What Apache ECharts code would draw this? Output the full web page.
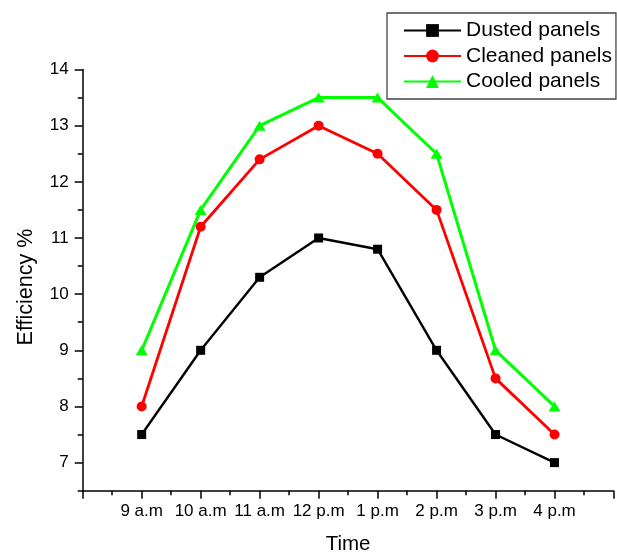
<!DOCTYPE html>
<html>
<head>
<meta charset="utf-8">
<script src="https://cdn.jsdelivr.net/npm/echarts@6/dist/echarts.min.js"></script>
<style>
  html, body { margin: 0; padding: 0; background: #fff; }
  #chart { width: 617px; height: 554px; }
</style>
</head>
<body>
<div id="chart"></div>
<script>
// Hour of day for each reading (24h clock) and its printed label
var hours = [9, 10, 11, 12, 13, 14, 15, 16];
var timeLabels = ['9 a.m', '10 a.m', '11 a.m', '12 p.m', '1 p.m', '2 p.m', '3 p.m', '4 p.m'];

// Efficiency (%) of each panel condition through the day
var dusted  = [7.5, 9.0, 10.3, 11.0, 10.8, 9.0, 7.5, 7.0];
var cleaned = [8.0, 11.2, 12.4, 13.0, 12.5, 11.5, 8.5, 7.5];
var cooled  = [9.0, 11.5, 13.0, 13.5, 13.5, 12.5, 9.0, 8.0];

// Axis tick values
var yMajor = [7, 8, 9, 10, 11, 12, 13, 14];
var yMinor = [6.5, 7.5, 8.5, 9.5, 10.5, 11.5, 12.5, 13.5];

var FONT = '"Liberation Sans", Arial, Helvetica, sans-serif';

function pairs(values) {
  return hours.map(function (h, i) { return [h, values[i]]; });
}

var chart = echarts.init(document.getElementById('chart'), null, { renderer: 'canvas' });

chart.setOption({
  backgroundColor: '#ffffff',
  animation: false,
  textStyle: { fontFamily: FONT, color: '#000' },
  grid: {
    left: 82.7, right: 3.5, top: 69.5, bottom: 63.3,
    containLabel: false,
    outerBoundsMode: 'none'
  },
  legend: {
    orient: 'vertical',
    left: 387,
    top: 13,
    padding: [7, 4, 7, 16],
    borderColor: '#444',
    borderWidth: 1.3,
    itemWidth: 57,
    itemHeight: 16,
    itemGap: 4.5,
    textStyle: { fontFamily: FONT, fontSize: 21, color: '#000', lineHeight: 20 },
    data: ['Dusted panels', 'Cleaned panels', 'Cooled panels']
  },
  xAxis: {
    type: 'value',
    min: 8,
    max: 17,
    interval: 1,
    name: 'Time',
    nameLocation: 'middle',
    nameGap: 43.5,
    nameTextStyle: { fontFamily: FONT, fontSize: 20.5, color: '#000' },
    axisLine: { show: true, lineStyle: { color: '#000', width: 1.5 } },
    axisTick: { show: true, inside: false, length: 8, lineStyle: { color: '#000', width: 1.5 } },
    minorTick: { show: true, splitNumber: 2, length: 4.5, lineStyle: { color: '#000', width: 1.5 } },
    splitLine: { show: false },
    minorSplitLine: { show: false },
    axisLabel: {
      fontFamily: FONT, fontSize: 17, color: '#000', margin: 12,
      formatter: function (v) {
        var i = hours.indexOf(v);
        return i >= 0 ? timeLabels[i] : '';
      }
    }
  },
  yAxis: [
    {
      type: 'value',
      min: 6.5,
      max: 14,
      name: 'Efficiency %',
      nameLocation: 'middle',
      nameGap: 46,
      nameTextStyle: { fontFamily: FONT, fontSize: 21.5, color: '#000', padding: [0, 14, 0, 0] },
      axisLine: { show: true, lineStyle: { color: '#000', width: 1.5 } },
      axisTick: { show: true, inside: false, length: 8, customValues: yMajor, lineStyle: { color: '#000', width: 1.5 } },
      splitLine: { show: false },
      axisLabel: { fontFamily: FONT, fontSize: 17, color: '#000', margin: 14, customValues: yMajor }
    },
    {
      type: 'value',
      min: 6.5,
      max: 14,
      position: 'left',
      axisLine: { show: false },
      axisTick: { show: true, inside: false, length: 5, customValues: yMinor, lineStyle: { color: '#000', width: 1.5 } },
      splitLine: { show: false },
      axisLabel: { show: false }
    }
  ],
  series: [
    {
      name: 'Dusted panels',
      type: 'line',
      data: pairs(dusted),
      color: '#000000',
      lineStyle: { color: '#000000', width: 2.4 },
      itemStyle: { color: '#000000' },
      symbol: 'rect',
      symbolSize: 9,
      z: 3
    },
    {
      name: 'Cleaned panels',
      type: 'line',
      data: pairs(cleaned),
      color: '#ff0000',
      lineStyle: { color: '#ff0000', width: 2.8 },
      itemStyle: { color: '#ff0000' },
      symbol: 'circle',
      symbolSize: 10,
      z: 3
    },
    {
      name: 'Cooled panels',
      type: 'line',
      data: pairs(cooled),
      color: '#00ff00',
      lineStyle: { color: '#00ff00', width: 3 },
      itemStyle: { color: '#00ff00' },
      symbol: 'triangle',
      symbolSize: [12, 10],
      z: 3
    }
  ]
});
</script>
</body>
</html>
